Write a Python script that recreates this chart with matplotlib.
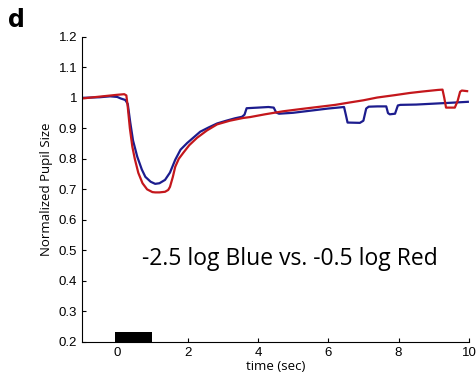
import matplotlib.pyplot as plt

# blue: -2.5 log Blue
blue_t = [-1.0, -0.5, -0.2, 0.0, 0.1, 0.23, 0.3, 0.37, 0.45, 0.57, 0.7, 0.8, 0.95, 1.08, 1.2, 1.36, 1.5, 1.65, 1.8, 1.99, 2.2, 2.36, 2.6, 2.84, 3.1, 3.35, 3.55, 3.62, 3.68, 4.0, 4.3, 4.45, 4.52, 4.6,
          5.0, 5.5, 6.0, 6.45, 6.5, 6.55, 6.9, 7.0, 7.08, 7.15, 7.4, 7.65, 7.7, 7.75, 7.9, 7.98, 8.05, 8.5, 9.0, 9.5, 9.97]
blue_y = [1.0, 1.002, 1.005, 1.003, 0.998, 0.993, 0.98, 0.92, 0.86, 0.807, 0.765, 0.741, 0.725, 0.718, 0.72, 0.731, 0.755, 0.797, 0.83, 0.852, 0.873, 0.889, 0.903, 0.916, 0.925, 0.933, 0.938, 0.945, 0.966, 0.968, 0.97, 0.968, 0.952, 0.948,
          0.951, 0.958, 0.965, 0.97, 0.945, 0.919, 0.918, 0.925, 0.965, 0.971, 0.972, 0.972, 0.95, 0.946, 0.948, 0.975, 0.977, 0.978, 0.981, 0.984, 0.987]

# red: -0.5 log Red
red_t = [-1.0, -0.5, 0.0, 0.2, 0.26, 0.3, 0.36, 0.43, 0.5, 0.6, 0.72, 0.85, 1.0, 1.08, 1.2, 1.36, 1.45, 1.5, 1.58, 1.65, 1.75, 1.88, 2.05, 2.27, 2.55, 2.84, 3.2, 3.58, 3.78, 4.2, 4.72, 5.2, 5.7, 6.2, 6.62, 7.0, 7.39, 7.9, 8.32, 8.7, 9.12, 9.25, 9.3, 9.35, 9.6, 9.68, 9.75, 9.8, 9.95]
red_y = [0.998, 1.004, 1.01, 1.012, 1.008, 0.97, 0.9, 0.84, 0.8, 0.754, 0.72, 0.70, 0.691, 0.69, 0.69, 0.692, 0.698, 0.708, 0.74, 0.774, 0.8, 0.82, 0.845, 0.869, 0.893, 0.913, 0.925, 0.934, 0.937, 0.946, 0.956, 0.963, 0.97, 0.977, 0.985, 0.992, 1.001, 1.009, 1.016, 1.021, 1.026, 1.027, 1.0, 0.968, 0.968, 0.99, 1.02, 1.024, 1.022]

stim_start, stim_end = -0.05, 1.0

plt.rcParams['font.family'] = ['Open Sans', 'DejaVu Sans']

fig = plt.figure(figsize=(4.77, 3.88), dpi=100)
ax = fig.add_axes([0.172, 0.119, 0.811, 0.786])

ax.plot(blue_t, blue_y, color='#1c1c8e', lw=1.6)
ax.plot(red_t, red_y, color='#c4171c', lw=1.6)
ax.fill_between([stim_start, stim_end], 0.2, 0.232, color='black', lw=0)

ax.set_xlim(-1, 10)
ax.set_ylim(0.2, 1.2)
ax.set_xticks([0, 2, 4, 6, 8, 10])
ax.set_yticks([0.2, 0.3, 0.4, 0.5, 0.6, 0.7, 0.8, 0.9, 1.0, 1.1, 1.2])
ax.set_yticklabels(['0.2', '0.3', '0.4', '0.5', '0.6', '0.7', '0.8', '0.9', '1', '1.1', '1.2'])
for s in ['top', 'right']:
    ax.spines[s].set_visible(False)
ax.tick_params(direction='in', length=3, width=0.8, labelsize=9.5)
for lbl in ax.get_xticklabels() + ax.get_yticklabels():
    lbl.set_family('Liberation Sans')
ax.set_xlabel('time (sec)', fontsize=9.5, labelpad=1)
ax.set_ylabel('Normalized Pupil Size', fontsize=9.5)
ax.text(4.9, 0.472, '-2.5 log Blue vs. -0.5 log Red', fontsize=16.5, ha='center', va='center')
fig.text(0.017, 0.93, 'd', fontsize=17, fontweight='bold', family='DejaVu Sans')

fig.savefig('out.png', dpi=100)
